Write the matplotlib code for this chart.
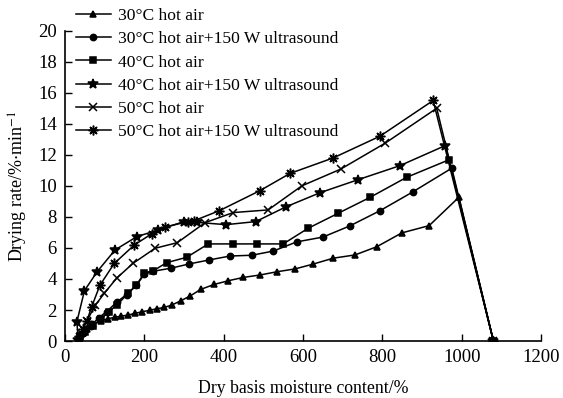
import numpy as np
import matplotlib.pyplot as plt

plt.rcParams['font.family'] = ['Liberation Serif', 'DejaVu Serif']
plt.rcParams['mathtext.fontset'] = 'stix'

# drying curves, listed in drying order (high moisture -> low)
mc_30 = [1080, 993, 918, 849, 786, 731, 676, 624, 580, 535, 492, 449, 412, 376, 342, 315, 292, 269,
         250, 231, 214, 195, 176, 160, 142, 125, 108, 90, 70, 55, 45, 38]
dr_30 = [0, 9.27, 7.44, 6.97, 6.08, 5.55, 5.34, 4.95, 4.65, 4.47, 4.26, 4.1, 3.89, 3.65, 3.33, 2.9, 2.6, 2.32,
         2.17, 2.08, 1.99, 1.89, 1.79, 1.68, 1.61, 1.53, 1.44, 1.3, 1.1, 0.8, 0.5, 0.2]

mc_30us = [1080, 975, 876, 794, 718, 650, 584, 525, 471, 416, 364, 313, 266, 222, 200, 180, 155, 130,
           105, 85, 65, 45, 35]
dr_30us = [0, 11.14, 9.6, 8.4, 7.42, 6.7, 6.39, 5.8, 5.53, 5.48, 5.23, 4.97, 4.69, 4.5, 4.3, 3.6, 3.0, 2.5,
           1.9, 1.5, 1.0, 0.5, 0.2]

mc_40 = [1080, 968, 861, 769, 689, 613, 550, 483, 424, 361, 307, 256, 223, 200, 180, 160, 130, 110,
         90, 70, 50, 38]
dr_40 = [0, 11.68, 10.55, 9.26, 8.24, 7.27, 6.26, 6.26, 6.26, 6.26, 5.4, 5.05, 4.54, 4.4, 3.6, 3.1, 2.3, 1.9,
         1.4, 1.0, 0.6, 0.3]

mc_40us = [1080, 959, 844, 739, 644, 557, 481, 406, 332, 300, 235, 181, 126, 81, 49, 30, 33]
dr_40us = [0, 12.6, 11.3, 10.4, 9.57, 8.65, 7.7, 7.5, 7.65, 7.7, 7.16, 6.73, 5.87, 4.47, 3.25, 1.25, 0.1]

mc_50 = [1080, 937, 807, 695, 597, 512, 424, 353, 283, 227, 171, 130, 99, 76, 55, 40]
dr_50 = [0, 15.0, 12.75, 11.08, 10.0, 8.45, 8.28, 7.63, 6.34, 5.98, 5.0, 4.05, 3.08, 2.3, 1.3, 0.5]

mc_50us = [1080, 928, 794, 676, 567, 492, 389, 325, 311, 252, 218, 175, 124, 88, 67, 55, 45, 35]
dr_50us = [0, 15.5, 13.2, 11.8, 10.8, 9.7, 8.4, 7.75, 7.7, 7.35, 6.9, 6.2, 5.0, 3.6, 2.2, 1.3, 0.8, 0.3]

labels = ['30°C hot air', '30°C hot air+150 W ultrasound', '40°C hot air',
          '40°C hot air+150 W ultrasound', '50°C hot air', '50°C hot air+150 W ultrasound']

fig = plt.figure(figsize=(5.63, 3.98), dpi=100)
ax = fig.add_axes([0.1155, 0.143, 0.8455, 0.78])

series = [(mc_30, dr_30, '^', 5), (mc_30us, dr_30us, 'o', 4.5), (mc_40, dr_40, 's', 4.2),
          (mc_40us, dr_40us, '*', 7), (mc_50, dr_50, 'x', 6), (mc_50us, dr_50us, (8, 2, 0), 7)]
handles = []
for (x, y, m, ms), lab in zip(series, labels):
    h, = ax.plot(x, y, color='black', lw=1.1, marker=m, ms=ms, mew=1.1,
                 mfc='black', mec='black', label=lab)
    handles.append(h)

ax.set_xlim(0, 1200)
ax.set_ylim(0, 20)
ax.set_xticks(np.arange(0, 1201, 200))
ax.set_yticks(np.arange(0, 21, 2))
ax.tick_params(direction='in', length=5, width=1, labelsize=13.5, pad=6)
ax.spines['top'].set_visible(False)
ax.spines['right'].set_visible(False)
ax.spines['left'].set_linewidth(1.2)
ax.spines['bottom'].set_linewidth(1.2)

ax.set_xlabel('Dry basis moisture content/%', fontsize=12.8, labelpad=10)
ax.set_ylabel(r'Drying rate/%$\cdot$min$^{-1}$', fontsize=13, labelpad=6)

fig.legend(handles=handles, loc='upper left', bbox_to_anchor=(0.122, 0.998), frameon=False,
           fontsize=12.6, handlelength=2.0, handletextpad=0.4, labelspacing=0.4,
           borderaxespad=0)

fig.savefig('out.png', dpi=100)
